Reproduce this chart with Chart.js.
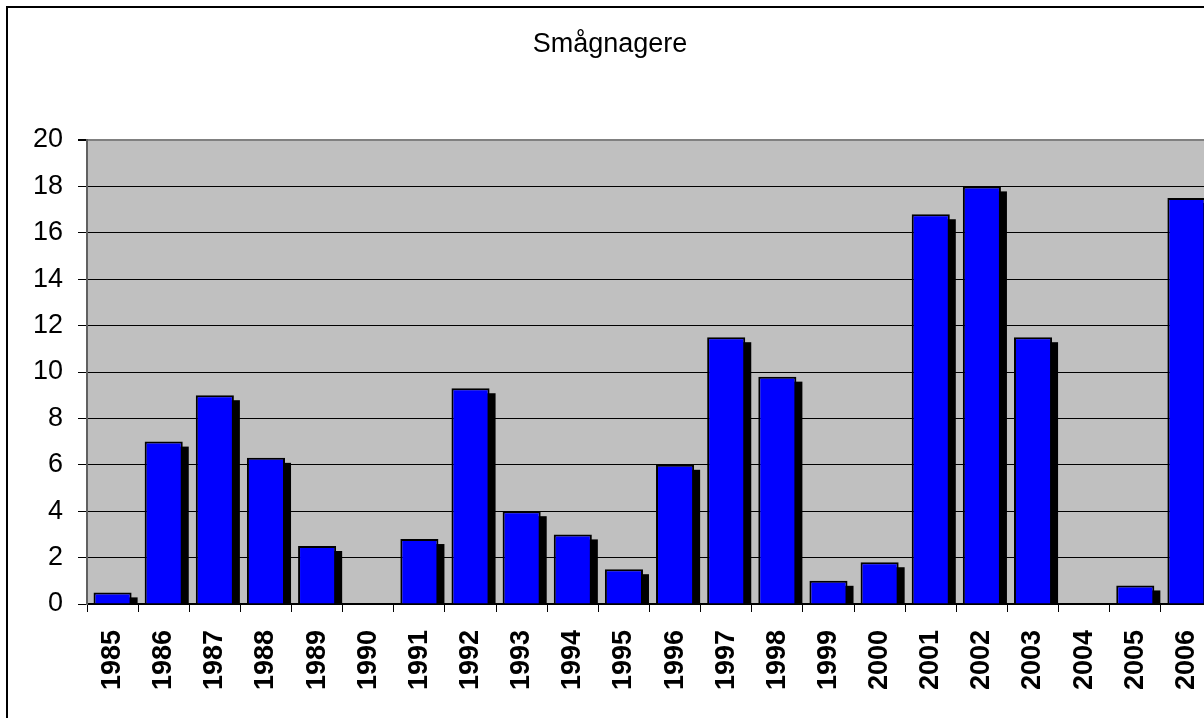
<!DOCTYPE html>
<html>
<head>
<meta charset="utf-8">
<script src="https://cdn.jsdelivr.net/npm/chart.js@4/dist/chart.umd.min.js"></script>
<style>
  html, body { margin: 0; padding: 0; background: #fff; overflow: hidden; }
  #frame {
    position: absolute;
    left: 6px;
    top: 6px;
    width: 1204px;
    height: 740px;
    border: 2px solid #000;
  }
  canvas { display: block; }
</style>
</head>
<body>
<div id="frame"><canvas id="rodentChart" width="1204" height="740"></canvas></div>
<script>
const chartTitle = "Smågnagere";
const years = [
  "1985", "1986", "1987", "1988", "1989", "1990", "1991", "1992", "1993", "1994", "1995",
  "1996", "1997", "1998", "1999", "2000", "2001", "2002", "2003", "2004", "2005", "2006"
];
const counts = [
  0.5, 7, 9, 6.3, 2.5, 0, 2.8, 9.3, 4, 3, 1.5,
  6, 11.5, 9.8, 1, 1.8, 16.8, 18, 11.5, 0, 0.8, 17.5
];
const yMin = 0;
const yMax = 20;
const yStep = 2;

const fontFamily = "'Liberation Sans', Arial, sans-serif";

// grey plot area behind the bars
const plotBackground = {
  id: "plotBackground",
  beforeDraw(chart) {
    const { ctx, chartArea } = chart;
    ctx.save();
    ctx.fillStyle = "#c0c0c0";
    ctx.fillRect(chartArea.left, chartArea.top, chartArea.right - chartArea.left, chartArea.bottom - chartArea.top);
    ctx.restore();
  },
};

// black drop shadow right/below each bar, like the old excel charts
const barShadow = {
  id: "barShadow",
  beforeDatasetsDraw(chart) {
    const { ctx, chartArea } = chart;
    const meta = chart.getDatasetMeta(0);
    ctx.save();
    ctx.beginPath();
    ctx.rect(chartArea.left, chartArea.top, chartArea.right - chartArea.left, chartArea.bottom - chartArea.top);
    ctx.clip();
    ctx.fillStyle = "#000";
    meta.data.forEach((bar) => {
      const p = bar.getProps(["x", "y", "base", "width"], true);
      const h = p.base - p.y - 5;
      if (h > 0) {
        ctx.fillRect(p.x - p.width / 2 + 6, p.y + 5, p.width, h);
      }
    });
    ctx.restore();
  },
};

new Chart(document.getElementById("rodentChart"), {
  type: "bar",
  data: {
    labels: years,
    datasets: [
      {
        label: chartTitle,
        data: counts,
        backgroundColor: "#0000ff",
        borderColor: "#000",
        borderWidth: (c) => (c.raw ? 2 : 0),
        categoryPercentage: 1,
        barPercentage: 0.745,
      },
    ],
  },
  options: {
    responsive: false,
    animation: false,
    layout: { padding: 0, autoPadding: false },
    scales: {
      x: {
        offset: true,
        afterFit: (scale) => {
          scale.height = 144;
          scale.paddingLeft = 0;
          scale.paddingRight = 0;
        },
        grid: {
          offset: true,
          drawOnChartArea: false,
          drawTicks: true,
          tickLength: 8,
          tickColor: "#000",
        },
        border: { display: true, color: "#000", width: 2 },
        ticks: {
          autoSkip: false,
          minRotation: 90,
          maxRotation: 90,
          padding: 18,
          color: "#000",
          font: { family: fontFamily, size: 27, weight: "bold" },
        },
      },
      y: {
        min: yMin,
        max: yMax,
        afterFit: (scale) => { scale.width = 79; },
        grid: {
          color: (c) => (c.tick && c.tick.value === yMax ? "#808080" : "#000"),
          lineWidth: (c) => (c.tick && c.tick.value === yMax ? 2 : 1),
          tickColor: "#000",
          tickLength: 9,
        },
        border: { display: true, color: "#606060", width: 2 },
        ticks: {
          stepSize: yStep,
          padding: 15,
          color: "#000",
          font: { family: fontFamily, size: 27 },
        },
      },
    },
    plugins: {
      legend: { display: false },
      tooltip: { enabled: false },
      title: {
        display: true,
        text: chartTitle,
        color: "#000",
        font: { family: fontFamily, size: 27, weight: "normal" },
        padding: { top: 20, bottom: 79.6 },
      },
    },
  },
  plugins: [plotBackground, barShadow],
});
</script>
</body>
</html>
